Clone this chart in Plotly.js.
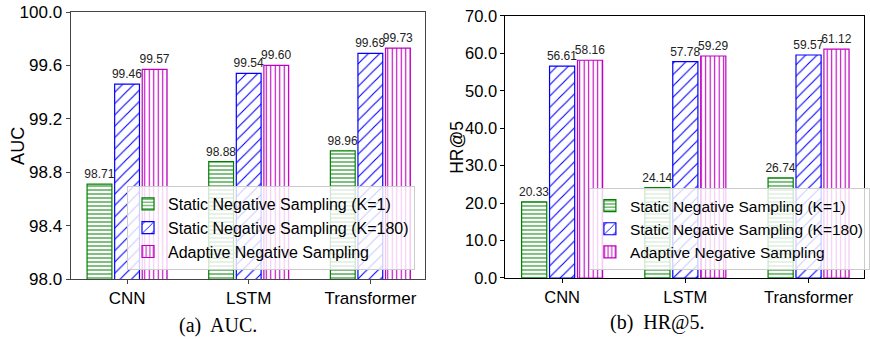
<!DOCTYPE html>
<html><head><meta charset="utf-8">
<script src="https://cdn.plot.ly/plotly-3.0.1.min.js"></script>
<style>body{margin:0;background:#fff}#chart{width:870px;height:339px}</style>
</head><body><div id="chart"></div>
<script>
const categories = ['CNN', 'LSTM', 'Transformer'];
const seriesNames = ['Static Negative Sampling (K=1)', 'Static Negative Sampling (K=180)', 'Adaptive Negative Sampling'];
const aucStatic1 = [98.71, 98.88, 98.96];
const aucStatic180 = [99.46, 99.54, 99.69];
const aucAdaptive = [99.57, 99.60, 99.73];
const hrStatic1 = [20.33, 24.14, 26.74];
const hrStatic180 = [56.61, 57.78, 59.57];
const hrAdaptive = [58.16, 59.29, 61.12];
const aucTicks = [98.0, 98.4, 98.8, 99.2, 99.6, 100.0];
const hrTicks = [0, 10, 20, 30, 40, 50, 60, 70];

const colors = ['#008000', '#0000ff', '#c000c0'];
const patterns = [
  {shape: '-', size: 4, solidity: 0.25},
  {shape: '/', size: 8, solidity: 0.14},
  {shape: '|', size: 4.5, solidity: 0.25}
];

function mk(vals, i, xa, ya, leg) {
  return {
    type: 'bar', x: categories, y: vals, name: seriesNames[i],
    xaxis: xa, yaxis: ya, legend: leg,
    marker: {color: 'rgba(0,0,0,0)', line: {color: colors[i], width: 1.2},
      pattern: {shape: patterns[i].shape, size: patterns[i].size, solidity: patterns[i].solidity,
        fgcolor: colors[i], bgcolor: '#ffffff', fillmode: 'replace'}},
    texttemplate: '%{y:.2f}', textposition: 'outside', cliponaxis: false,
    constraintext: 'none', textfont: {size: 12, color: '#222', family: 'Liberation Sans, Arial, sans-serif'}
  };
}

const data = [
  mk(aucStatic1, 0, 'x', 'y', 'legend'),
  mk(aucStatic180, 1, 'x', 'y', 'legend'),
  mk(aucAdaptive, 2, 'x', 'y', 'legend'),
  mk(hrStatic1, 0, 'x2', 'y2', 'legend2'),
  mk(hrStatic180, 1, 'x2', 'y2', 'legend2'),
  mk(hrAdaptive, 2, 'x2', 'y2', 'legend2')
];

const font = 'Liberation Sans, Arial, sans-serif';
const legendBase = {
  bgcolor: 'rgba(255,255,255,0.8)', bordercolor: '#cccccc', borderwidth: 1,
  xref: 'paper', yref: 'paper', xanchor: 'left', yanchor: 'bottom',
  tracegroupgap: 0, itemwidth: 30
};

const layout = {
  width: 870, height: 339,
  margin: {l: 0, r: 0, t: 0, b: 0},
  paper_bgcolor: '#fff', plot_bgcolor: '#fff',
  font: {family: font, color: '#000'},
  barmode: 'group', bargap: 0.32, bargroupgap: 0.1,
  showlegend: true,
  xaxis: {domain: [0.0816, 0.492], anchor: 'y', range: [-0.465, 2.45],
    showline: true, mirror: true, linecolor: '#444', linewidth: 1,
    ticks: 'outside', ticklen: 4, tickcolor: '#444', tickfont: {size: 17}, showgrid: false},
  yaxis: {domain: [0.177, 0.9646], anchor: 'x', range: [98.0, 100.0],
    tickvals: aucTicks, tickformat: '.1f',
    showline: true, mirror: true, linecolor: '#444', linewidth: 1,
    ticks: 'outside', ticklen: 4, tickcolor: '#444', tickfont: {size: 17}, showgrid: false, zeroline: false},
  xaxis2: {domain: [0.585, 1.0], anchor: 'y2', range: [-0.46, 2.45],
    showline: true, mirror: true, linecolor: '#000', linewidth: 1,
    ticks: 'outside', ticklen: 4, tickcolor: '#000', tickfont: {size: 16.5}, showgrid: false},
  yaxis2: {domain: [0.18, 0.953], anchor: 'x2', range: [0, 70],
    tickvals: hrTicks, tickformat: '.1f',
    showline: true, mirror: true, linecolor: '#000', linewidth: 1,
    ticks: 'outside', ticklen: 4, tickcolor: '#000', tickfont: {size: 16.5}, showgrid: false, zeroline: false},
  legend: Object.assign({}, legendBase, {x: 0.147, y: 0.2035, font: {size: 16, family: font}}),
  legend2: Object.assign({}, legendBase, {x: 0.6816, y: 0.2035, font: {size: 15.5, family: font}}),
  annotations: [
    {text: 'AUC', xref: 'paper', yref: 'paper', x: 18/870, y: (339-146)/339, textangle: -90,
      showarrow: false, font: {size: 18}, xanchor: 'center', yanchor: 'middle'},
    {text: 'HR@5', xref: 'paper', yref: 'paper', x: 460/870, y: (339-147)/339, textangle: -90,
      showarrow: false, font: {size: 17.5}, xanchor: 'center', yanchor: 'middle'},
    {text: '(a)  AUC.', xref: 'paper', yref: 'paper', x: 220/870, y: (339-325)/339,
      showarrow: false, font: {size: 20, family: 'Liberation Serif, Times New Roman, serif'}, xanchor: 'center', yanchor: 'middle'},
    {text: '(b)  HR@5.', xref: 'paper', yref: 'paper', x: 662/870, y: (339-322)/339,
      showarrow: false, font: {size: 20, family: 'Liberation Serif, Times New Roman, serif'}, xanchor: 'center', yanchor: 'middle'}
  ]
};

Plotly.newPlot('chart', data, layout, {displayModeBar: false, staticPlot: true});
</script>
</body></html>
